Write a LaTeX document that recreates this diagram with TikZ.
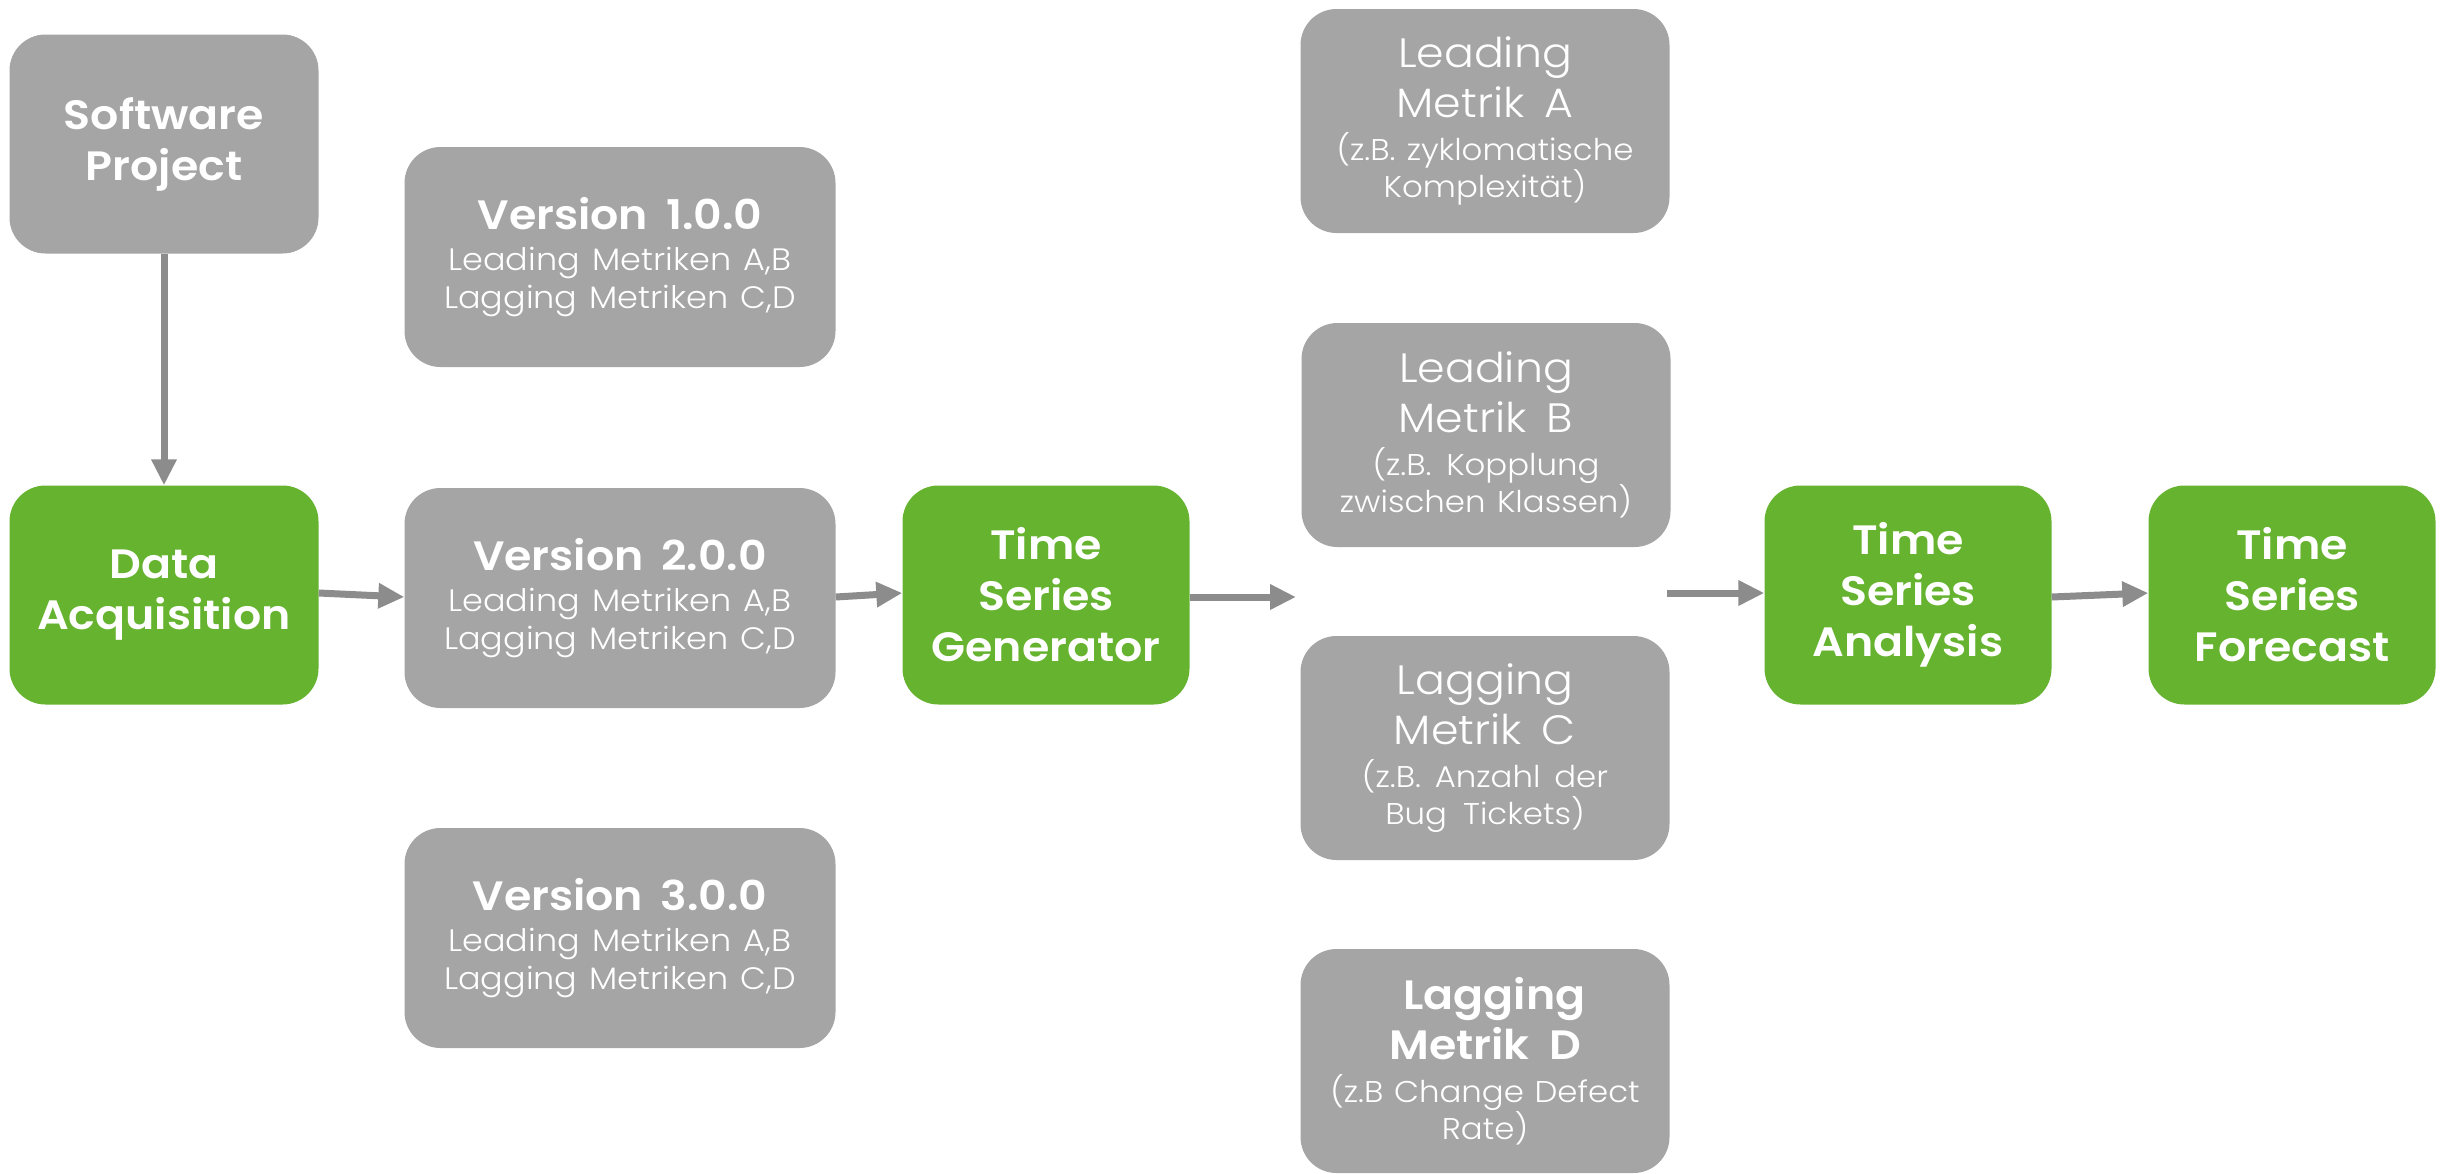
\documentclass[tikz,border=0pt]{standalone}
\usepackage{fontspec}
\setmainfont{Poppins}[FakeStretch=1.08]
\newfontfamily\plight{Poppins Light}[FakeStretch=1.08]
\newfontfamily\psemi{Poppins SemiBold}[FakeStretch=1.08]
\usetikzlibrary{arrows.meta}
\definecolor{boxgray}{HTML}{A5A5A5}
\definecolor{boxgreen}{HTML}{66B32F}
\definecolor{arrgray}{HTML}{8C8C8C}
\newcommand\myspc[1]{\spaceskip=#1pt plus 2pt\relax}
\newcommand\ttlfont{\psemi\fontsize{41}{51}\selectfont\myspc{11}}
\newcommand\subfont{\plight\fontsize{31}{38}\selectfont\myspc{8.5}}
\newcommand\mtitle{\plight\fontsize{41}{50}\selectfont\myspc{11}}
\newcommand\msub{\plight\fontsize{30}{37}\selectfont\myspc{8}}
\begin{document}
\begin{tikzpicture}[x=1pt,y=-1pt,
  box/.style={rounded corners=36pt, inner sep=0pt, align=center, text=white, draw=none},
  graybox/.style={box, fill=boxgray},
  greenbox/.style={box, fill=boxgreen},
  smallbox/.style={minimum width=309pt, minimum height=219pt, text width=300pt},
  greenmid/.style={minimum width=287pt, minimum height=219pt, text width=280pt},
  verbox/.style={graybox, minimum width=431pt, minimum height=220pt, text width=425pt},
  metbox/.style={graybox, minimum width=369pt, minimum height=224pt, text width=362pt},
  conn/.style={draw=arrgray, line width=7pt, -{Triangle[length=26pt,width=24pt]}}
]
\path[use as bounding box] (0,0) rectangle (2448,1173);

\node[graybox, smallbox] (sp) at (164,144) {{\ttlfont Software\\Project\par}};
\node[greenbox, smallbox] (da) at (164,595) {{\ttlfont Data\\Acquisition\par}};

\node[verbox] (v1) at (620,257) {{\ttlfont Version 1.0.0\par}\vspace{3pt}{\subfont Leading Metriken A,B\\Lagging Metriken C,D\par}};
\node[verbox] (v2) at (620,598) {{\ttlfont Version 2.0.0\par}\vspace{3pt}{\subfont Leading Metriken A,B\\Lagging Metriken C,D\par}};
\node[verbox] (v3) at (620,938) {{\ttlfont Version 3.0.0\par}\vspace{3pt}{\subfont Leading Metriken A,B\\Lagging Metriken C,D\par}};

\node[greenbox, greenmid] (tsg) at (1046,595) {{\ttlfont Time\\Series\\Generator\par}};

\node[metbox] (ma) at (1485,121) {{\mtitle Leading\\Metrik A\par}\vspace{6pt}{\msub (z.B. zyklomatische\\Komplexität)\par}};
\node[metbox] (mb) at (1486,435) {{\mtitle Leading\\Metrik B\par}\vspace{6pt}{\msub (z.B. Kopplung\\zwischen Klassen)\par}};
\node[metbox] (mc) at (1485,748) {{\mtitle Lagging\\Metrik C\par}\vspace{6pt}{\msub (z.B. Anzahl der\\Bug Tickets)\par}};
\node[metbox] (md) at (1485,1061) {{\psemi\fontsize{41}{50}\selectfont\myspc{11} Lagging\\Metrik D\par}\vspace{6pt}{\msub (z.B Change Defect\\Rate)\par}};

\node[greenbox, greenmid] (tsa) at (1908,595) {{\ttlfont Time\\Series\\Analysis\par}};
\node[greenbox, greenmid] (tsf) at (2292,595) {{\ttlfont Time\\Series\\Forecast\par}};

\coordinate (gout) at (1296,597);
\coordinate (min) at (1667,593);

\draw[conn] (sp.south) -- (da.north);
\draw[conn] (da.east |- 0,593) -- (v2.west |- 0,597);
\draw[conn] (v2.east |- 0,597) -- (tsg.west |- 0,593);
\draw[conn] (tsg.east |- 0,597) -- (gout);
\draw[conn] (min) -- (tsa.west |- 0,593);
\draw[conn] (tsa.east |- 0,597) -- (tsf.west |- 0,593);
\end{tikzpicture}
\end{document}
